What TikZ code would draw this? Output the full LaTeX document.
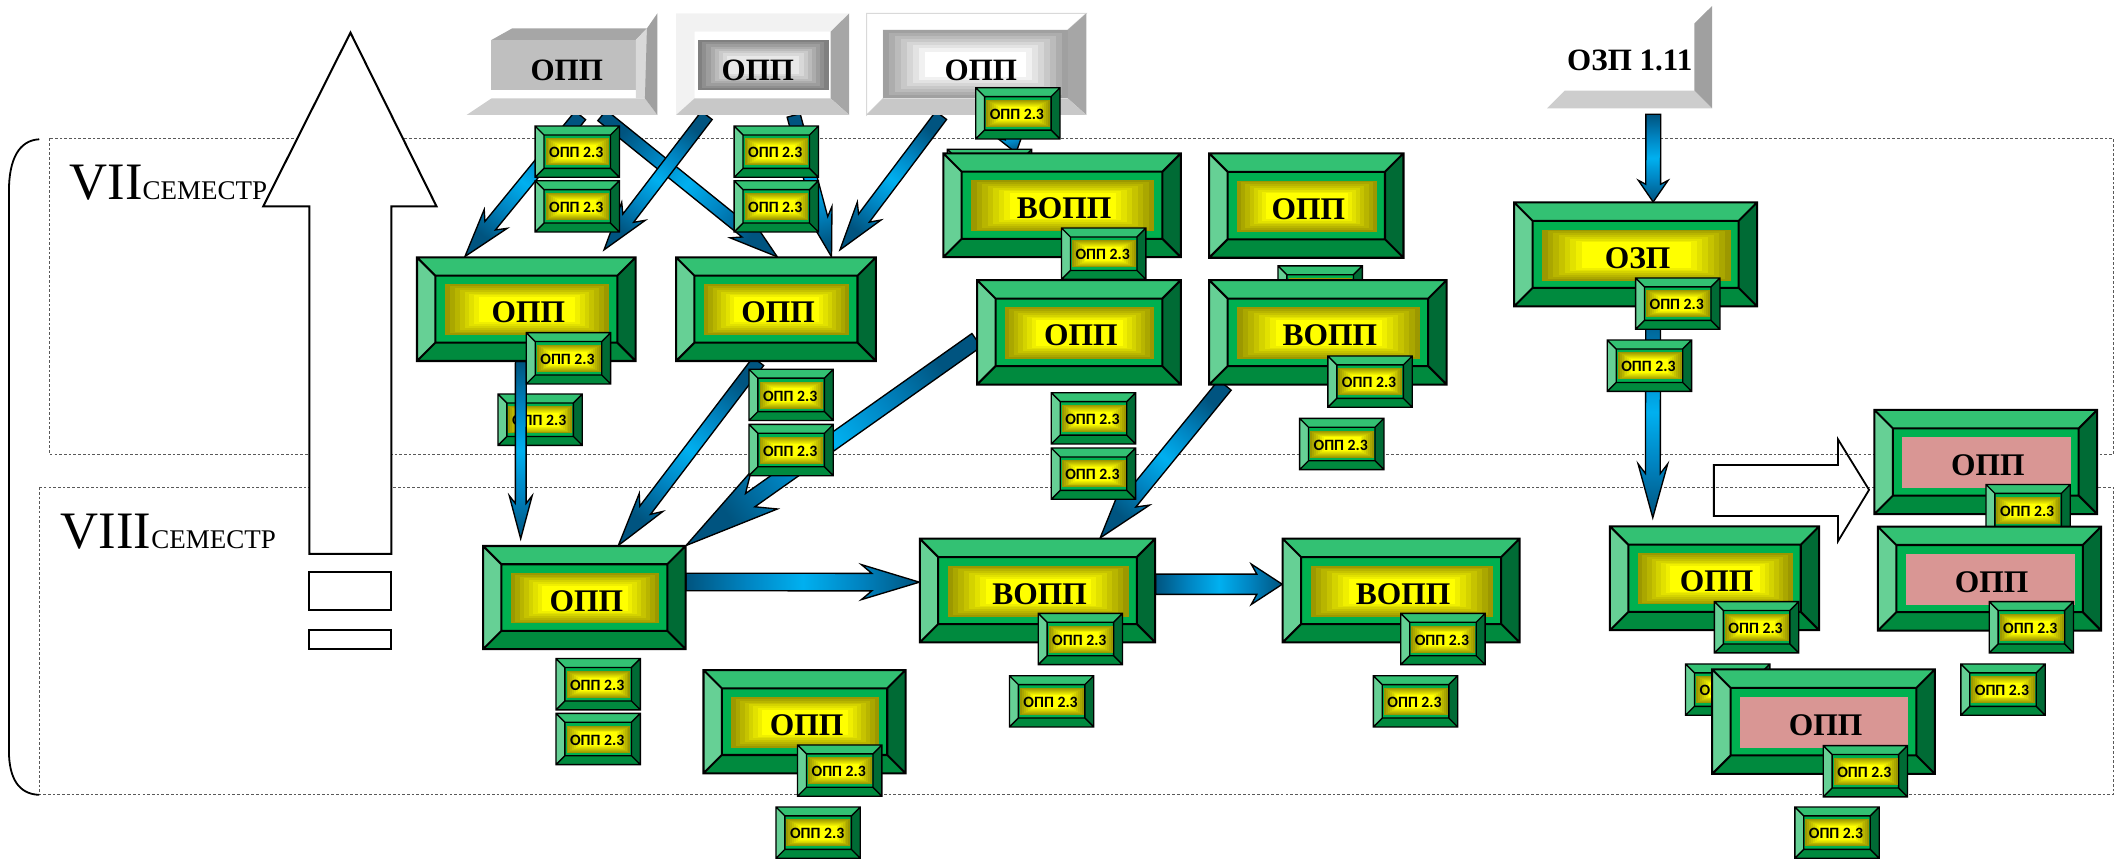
\documentclass[tikz,border=0pt]{standalone}
\usepackage{fontspec}
\setmainfont{Liberation Serif}
\newfontfamily\calib{Carlito}
\usetikzlibrary{calc,fit}
\pgfdeclarelayer{bg}
\pgfdeclarelayer{under}
\pgfdeclarelayer{arr}
\pgfsetlayers{bg,under,arr,main}
\definecolor{gtop}{HTML}{33C173}
\definecolor{gleft}{HTML}{66D095}
\definecolor{gright}{HTML}{006B35}
\definecolor{gbot}{HTML}{008A3E}
\definecolor{gface}{HTML}{00B050}
\definecolor{olv}{HTML}{9C9800}
\definecolor{ylw}{HTML}{FFFF00}
\definecolor{pinkp}{HTML}{D99694}
\definecolor{gr1}{HTML}{BFBFBF}
\definecolor{gr2}{HTML}{CDCDCD}
\definecolor{gr3}{HTML}{A6A6A6}
\definecolor{gr4}{HTML}{D9D9D9}
\definecolor{gr5}{HTML}{F2F2F2}
\definecolor{gr6}{HTML}{C8C8C8}
\definecolor{gr7}{HTML}{808080}
\definecolor{gr8}{HTML}{E8E8E8}
\definecolor{gr9}{HTML}{A0A0A0}
\pgfdeclarehorizontalshading{arrsh}{100bp}{rgb(0bp)=(0,0.33,0.50); rgb(25bp)=(0,0.33,0.50); rgb(38bp)=(0,0.52,0.76); rgb(50bp)=(0,0.69,0.94); rgb(62bp)=(0,0.52,0.76); rgb(75bp)=(0,0.33,0.50); rgb(100bp)=(0,0.33,0.50)}
\tikzset{
  bigtxt/.style={font=\bfseries\fontsize{14}{14}\selectfont, inner sep=0pt},
  smtxt/.style={font=\calib\bfseries\fontsize{7}{7}\selectfont, inner sep=0pt},
  gtxt/.style={font=\bfseries\fontsize{13.8}{14}\selectfont, inner sep=0pt},
  arrsty/.style={draw=black, line width=0.6pt, line join=miter, shading=arrsh},
  semrect/.style={draw=black!65, line width=0.5pt, dash pattern=on 1.2pt off 0.9pt},
}
\newcommand\bevel[6]{%
 \fill[gtop] (#1,#2) -- (#3,#2) -- ({#3-#5},{#2+#5}) -- ({#1+#5},{#2+#5}) -- cycle;
 \fill[gleft] (#1,#2) -- ({#1+#5},{#2+#5}) -- ({#1+#5},{#4-#5}) -- (#1,#4) -- cycle;
 \fill[gright] (#3,#2) -- (#3,#4) -- ({#3-#5},{#4-#5}) -- ({#3-#5},{#2+#5}) -- cycle;
 \fill[gbot] (#1,#4) -- (#3,#4) -- ({#3-#5},{#4-#5}) -- ({#1+#5},{#4-#5}) -- cycle;
 \fill[gface] ({#1+#5},{#2+#5}) rectangle ({#3-#5},{#4-#5});
 \draw[line width=#6, line join=miter] (#1,#2) rectangle (#3,#4) ({#1+#5},{#2+#5}) rectangle ({#3-#5},{#4-#5})
   (#1,#2) -- ({#1+#5},{#2+#5}) (#3,#2) -- ({#3-#5},{#2+#5}) (#1,#4) -- ({#1+#5},{#4-#5}) (#3,#4) -- ({#3-#5},{#4-#5});
}
\newcommand\ypanel[4]{%
  \foreach \k in {0,...,7}{%
    \pgfmathtruncatemacro\pct{\k*100/7}%
    \fill[ylw!\pct!olv] ({#1+\k*0.03*(#3-#1)},{#2+\k*0.036*(#4-#2)}) rectangle ({#3-\k*0.03*(#3-#1)},{#4-\k*0.036*(#4-#2)});
  }}
\newcommand\gpanel[6]{%
  \foreach \k in {0,...,7}{%
    \pgfmathtruncatemacro\pct{\k*100/7}%
    \fill[#6!\pct!#5] ({#1+\k*0.032*(#3-#1)},{#2+\k*0.045*(#4-#2)}) rectangle ({#3-\k*0.032*(#3-#1)},{#4-\k*0.045*(#4-#2)});
  }}
\newcommand\gbig[7]{%
  \node[fit={(#2,#3)(#4,#5)}, inner sep=0pt] (#1) {};
  \pgfmathsetmacro\bd{0.177*(#5-#3)}%
  \bevel{#2}{#3}{#4}{#5}{\bd}{0.9pt}%
  \pgfmathsetmacro\pxa{#2+\bd+7}\pgfmathsetmacro\pya{#3+\bd+6.5}%
  \pgfmathsetmacro\pxb{#4-\bd-6}\pgfmathsetmacro\pyb{#5-\bd-5.5}%
  \ifnum#7=1 \ypanel{\pxa}{\pya}{\pxb}{\pyb}\else \fill[pinkp] (\pxa,\pya) rectangle (\pxb,\pyb);\fi
  \node[bigtxt] at ({(#2+#4)/2+1.5},{(#3+#5)/2+2.5}) {#6};
}
\newcommand\gsm[3]{%
  \pgfmathsetmacro\sxb{#2+62.5}\pgfmathsetmacro\syb{#3+38}%
  \node[fit={(#2,#3)(\sxb,\syb)}, inner sep=0pt] (#1) {};
  \bevel{#2}{#3}{\sxb}{\syb}{6.6}{0.6pt}%
  \pgfmathsetmacro\pxa{#2+6.6+1.2}\pgfmathsetmacro\pya{#3+6.6+2.5}%
  \pgfmathsetmacro\pxb{\sxb-6.6-0.8}\pgfmathsetmacro\pyb{\syb-6.6-2.2}%
  \ypanel{\pxa}{\pya}{\pxb}{\pyb}%
  \node[smtxt] at ({#2+30.5},{#3+19.8}) {ОПП 2.3};
}
% #3 shaft width, #4 head width, #5 head length
\newcommand\barrow[5]{%
  \path let \p1=(#1), \p2=(#2) in \pgfextra{%
    \pgfmathsetmacro\tmpang{atan2(\y2-\y1,\x2-\x1)}%
    \pgfmathsetmacro\tmplen{veclen(\x2-\x1,\y2-\y1)/0.6}%
    \xdef\arang{\tmpang}\xdef\arlen{\tmplen}};
  \begin{scope}[shift={(#1)}, rotate=\arang, x=0.6pt, y=0.6pt]
    \shade[arrsty, shading angle=\arang] (0,{-#3/2}) -- ({\arlen-0.82*#5},{-#3/2}) -- ({\arlen-#5},{-#4/2}) -- (\arlen,0) -- ({\arlen-#5},{#4/2}) -- ({\arlen-0.82*#5},{#3/2}) -- (0,{#3/2}) -- cycle;
  \end{scope}}
\begin{document}
\begin{tikzpicture}[x=0.6pt,y=-0.6pt]
\useasboundingbox (0,0) rectangle (1568,639);
\begin{pgfonlayer}{bg}
 \draw[semrect] (36.4,102.5) rectangle (1566,336.5);
 \draw[semrect] (29.1,361) rectangle (1566,589);
 \draw[line width=0.8pt] (29.1,103.2) .. controls (14,104) and (6.6,118) .. (6.6,142) -- (6.6,556) .. controls (6.6,577) and (14,588.5) .. (29.1,589);
 \draw[line width=0.8pt] (1270,344.6) -- (1362,344.6) -- (1362,325.6) -- (1385,363) -- (1362,401) -- (1362,382.4) -- (1270,382.4) -- cycle;
 \draw[line width=0.9pt, fill=white] (259.7,24.2) -- (323.5,153) -- (290,153) -- (290,410.5) -- (229.2,410.5) -- (229.2,153) -- (195,153) -- cycle;
 \draw[line width=0.9pt] (229.2,424) rectangle (290,452);
 \draw[line width=0.9pt] (229.2,467) rectangle (290,481);
 \node[anchor=base west, inner sep=0pt] (sem7) at (51.3,147.7) {\fontsize{23.4}{24}\selectfont VII\fontsize{12}{12}\selectfont СЕМЕСТР};
 \node[anchor=base west, inner sep=0pt] (sem8) at (44.7,406.3) {\fontsize{23.4}{24}\selectfont VIII\fontsize{12}{12}\selectfont СЕМЕСТР};
\end{pgfonlayer}
% grey box A
\node[fit={(345.8,9.9)(487.1,85.2)},inner sep=0pt] (gA) {};
\fill[gr2] (345.8,85.2) -- (364.2,72.9) -- (477.9,72.9) -- (487.1,85.2) -- cycle;
\fill[gr1] (364.2,29.6) rectangle (471.1,66.7);
\fill[gr3] (364.2,29.6) -- (379.6,21) -- (479.4,21) -- (471.1,29.6) -- cycle;
\fill[gr4] (471.1,29.6) -- (479.4,21) -- (479.4,72.9) -- (471.1,72.9) -- cycle;
\fill[gr9] (479.4,21) -- (487.1,9.9) -- (487.1,85.2) -- (477.9,72.9) -- cycle;
\node[gtxt] at (420,52) {ОПП};
% grey box B
\node[fit={(501,9.9)(629.3,85.2)},inner sep=0pt] (gB) {};
\fill[gr5] (501,9.9) -- (629.3,9.9) -- (615.5,23.5) -- (514.7,23.5) -- (514.7,72.9) -- (501,85.2) -- cycle;
\fill[gr3] (629.3,9.9) -- (629.3,85.2) -- (615.5,72.9) -- (615.5,23.5) -- cycle;
\fill[gr6] (501,85.2) -- (514.7,72.9) -- (615.5,72.9) -- (629.3,85.2) -- cycle;
\gpanel{517.2}{29.6}{614}{66.7}{gr7}{gr8}
\node[gtxt] at (561.6,52) {ОПП};
% grey box C
\node[fit={(642.2,9.9)(805,85.2)},inner sep=0pt] (gC) {};
\filldraw[fill=white, draw=black!15, line width=0.4pt] (642.2,9.9) -- (805,9.9) -- (791.2,22.2) -- (654.5,22.2) -- (654.5,72.9) -- (642.2,85.2) -- cycle;
\fill[gr3] (805,9.9) -- (805,85.2) -- (791.2,72.9) -- (791.2,22.2) -- cycle;
\fill[gr6] (642.2,85.2) -- (654.5,72.9) -- (791.2,72.9) -- (805,85.2) -- cycle;
\gpanel{654.5}{22.2}{791.2}{72.9}{gr9}{white}
\node[gtxt] at (726.8,52) {ОПП};
% OZP 1.11
\node[fit={(1146.4,4.4)(1268.7,80.3)},inner sep=0pt] (gZ) {};
\fill[gr2] (1146.4,80.3) -- (1159.5,67.2) -- (1255.6,67.2) -- (1268.7,80.3) -- cycle;
\node[gtxt, anchor=west] at (1161,45) {ОЗП 1.11};
\fill[gr9] (1255.6,17.3) -- (1268.7,4.4) -- (1268.7,80.3) -- (1255.6,67.2) -- cycle;
% boxes
\gsm{h1}{702}{110.6}
\gsm{s5}{723}{65}
\gsm{s1}{396.5}{93.4}
\gsm{s2}{396.5}{133.9}
\gsm{s3}{544}{93.4}
\gsm{s4}{544}{133.9}
\gbig{G1}{309}{190.7}{471}{267.5}{ОПП}{1}
\gsm{s8}{390}{246.5}
\gbig{G2}{501}{190.7}{649}{267.5}{ОПП}{1}
\gbig{G3}{699}{113.6}{875}{190.6}{ВОПП}{1}
\gsm{s7}{786.6}{169}
\gbig{G5}{724}{207.5}{875}{285}{ОПП}{1}
\gbig{G4}{896}{113.6}{1040}{191}{ОПП}{1}
\gsm{h2}{947}{197}
\gbig{G6}{896}{207.5}{1072}{285}{ВОПП}{1}
\gsm{s14}{984}{263.8}
\gsm{s15}{963}{310}
\gbig{G7}{1122}{150}{1302}{227}{ОЗП}{1}
\gsm{s16}{1212}{206}
\gsm{s17}{1191}{252}
\gsm{s10}{555}{273.6}
\gsm{s11}{555}{314.5}
\gsm{s12}{779}{291}
\gsm{s13}{779}{332}
\gbig{G8}{358}{404.6}{508}{481}{ОПП}{1}
\gsm{s18}{412}{488}
\gsm{s19}{412}{528.6}
\gbig{G9}{681.6}{399.2}{856}{476}{ВОПП}{1}
\gsm{s20}{769.3}{454.5}
\gsm{s21}{748}{500.7}
\gbig{G10}{950.5}{399.2}{1126}{476}{ВОПП}{1}
\gsm{s22}{1038}{454.5}
\gsm{s23}{1017.7}{500.7}
\gbig{G11}{521.3}{496.5}{671}{573}{ОПП}{1}
\gsm{s24}{591}{552}
\gsm{s25}{575}{598}
\gbig{G12}{1193}{390}{1348}{467}{ОПП}{1}
\gsm{s26}{1270.4}{445.8}
\gsm{s27}{1249}{492}
\gbig{P3}{1268.7}{496}{1433.8}{573.5}{ОПП}{2}
\gsm{s31}{1351}{552.5}
\gsm{s32}{1330}{598}
\gbig{P1}{1389}{303.8}{1554}{380.9}{ОПП}{2}
\gsm{s28}{1471.6}{359}
\gbig{P2}{1391.5}{390.2}{1557}{467.3}{ОПП}{2}
\gsm{s29}{1474}{445.8}
\gsm{s30}{1453}{492}
\begin{pgfonlayer}{under}
\gsm{s9}{369}{292}
\end{pgfonlayer}
\begin{pgfonlayer}{arr}
\barrow{$(gA.south west)!.596!(gA.south east)$}{$(G1.north west)!.219!(G1.north east)$}{10}{22}{36}
\barrow{$(gA.south west)!.709!(gA.south east)$}{$(G2.north west)!.507!(G2.north east)$}{10}{22}{36}
\barrow{$(gB.south west)!.179!(gB.south east)$}{$(G1.north west)!.853!(G1.north east)+(0,-5)$}{10}{22}{36}
\barrow{$(gB.south west)!.678!(gB.south east)$}{$(G2.north west)!.777!(G2.north east)$}{10}{20}{36}
\barrow{$(gC.south west)!.34!(gC.south east)$}{$(G2.north west)!.818!(G2.north east)+(0,-5)$}{10}{22}{36}
\barrow{$(gC.south west)!.63!(gC.south east)$}{$(G3.north west)!.307!(G3.north east)$}{10}{20}{14}
\barrow{$(gZ.south west)!.643!(gZ.south east)+(0,4)$}{$(G7.north west)!.572!(G7.north east)$}{11}{22}{16}
\barrow{$(G7.south west)!.572!(G7.south east)$}{$(G12.north west)!.206!(G12.north east)+(0,-6)$}{11}{22}{40}
\barrow{$(G1.south west)!.475!(G1.south east)$}{$(G8.north west)!.187!(G8.north east)+(0,-5)$}{8}{17}{32}
\barrow{$(G2.south west)!.412!(G2.south east)$}{$(G8.north west)!.667!(G8.north east)$}{10}{22}{40}
\barrow{$(G5.north west)!.574!(G5.south west)$}{G8.north east}{12}{34}{71}
\barrow{$(G6.south west)!.068!(G6.south east)$}{$(G9.north west)!.764!(G9.north east)$}{12}{26}{42}
\barrow{$(G8.north east)!.35!(G8.south east)$}{$(G9.north west)!.42!(G9.south west)$}{13}{26}{43}
\barrow{$(G9.north east)!.44!(G9.south east)$}{$(G10.north west)!.44!(G10.south west)$}{15}{30}{23}
\end{pgfonlayer}
\end{tikzpicture}
\end{document}
